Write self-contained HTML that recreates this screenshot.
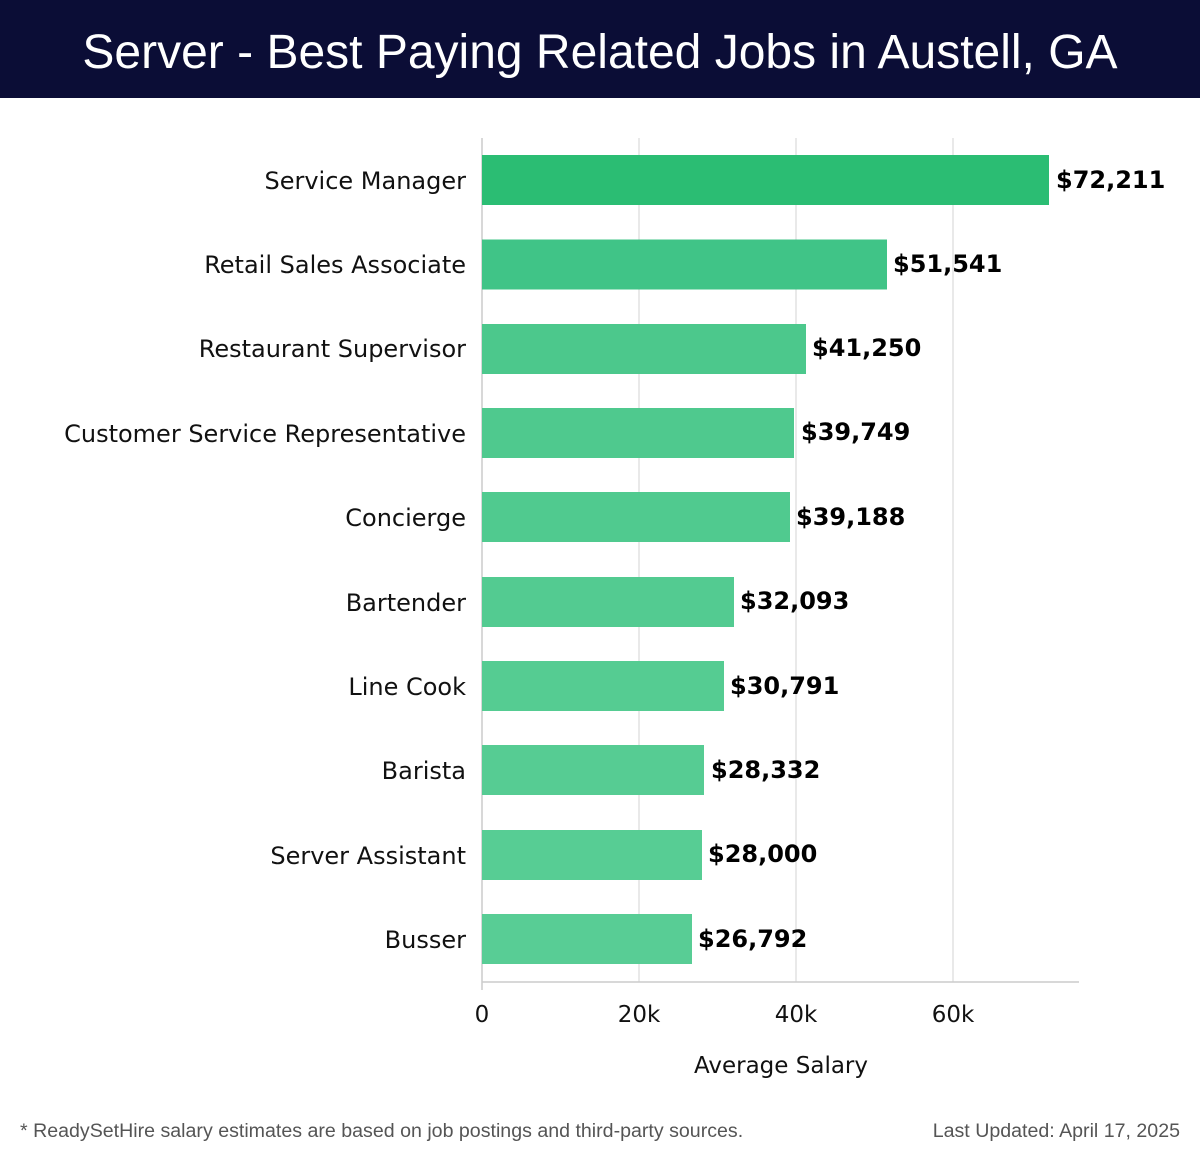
<!DOCTYPE html>
<html><head><style>
body{margin:0;width:1200px;height:1158px;background:#fff;font-family:"Liberation Sans",sans-serif;position:relative;overflow:hidden}
.hdr{position:absolute;left:0;top:0;width:1200px;height:98px;background:#0b0d36;color:#fff;font-size:48px;text-align:center;line-height:106px}
</style></head><body>
<div class="hdr">Server - Best Paying Related Jobs in Austell, GA</div>
<svg width="1200" height="1158" style="position:absolute;left:0;top:0" font-family="DejaVu Sans, sans-serif">
<g stroke="#e2e2e2" stroke-width="1.5">
<line x1="639" y1="138" x2="639" y2="982"/><line x1="796" y1="138" x2="796" y2="982"/><line x1="953" y1="138" x2="953" y2="982"/>
</g>
<line x1="482" y1="138" x2="482" y2="990" stroke="#ccc" stroke-width="1.5"/>
<line x1="482" y1="982" x2="1079" y2="982" stroke="#ccc" stroke-width="1.5"/>
<g>
<rect x="482" y="155" width="567" height="50" fill="#2bbd73"/>
<rect x="482" y="239.5" width="405" height="50" fill="#40c487"/>
<rect x="482" y="324" width="324" height="50" fill="#4cc88c"/>
<rect x="482" y="408" width="312" height="50" fill="#4fc98e"/>
<rect x="482" y="492" width="308" height="50" fill="#50ca8f"/>
<rect x="482" y="577" width="252" height="50" fill="#53cb91"/>
<rect x="482" y="661" width="242" height="50" fill="#55cc92"/>
<rect x="482" y="745" width="222" height="50" fill="#56cc93"/>
<rect x="482" y="830" width="220" height="50" fill="#57cd94"/>
<rect x="482" y="914" width="210" height="50" fill="#58cd95"/>
</g>
<g font-size="24" fill="#111" text-anchor="end">
<text x="466" y="189">Service Manager</text>
<text x="466" y="273">Retail Sales Associate</text>
<text x="466" y="357">Restaurant Supervisor</text>
<text x="466" y="442">Customer Service Representative</text>
<text x="466" y="526">Concierge</text>
<text x="466" y="611">Bartender</text>
<text x="466" y="695">Line Cook</text>
<text x="466" y="779">Barista</text>
<text x="466" y="864">Server Assistant</text>
<text x="466" y="948">Busser</text>
</g>
<g font-size="24" font-weight="bold" fill="#000">
<text x="1056" y="188">$72,211</text>
<text x="893" y="272">$51,541</text>
<text x="812" y="356">$41,250</text>
<text x="801" y="440">$39,749</text>
<text x="796" y="525">$39,188</text>
<text x="740" y="609">$32,093</text>
<text x="730" y="694">$30,791</text>
<text x="711" y="778">$28,332</text>
<text x="708" y="862">$28,000</text>
<text x="698" y="947">$26,792</text>
</g>
<g font-size="23" fill="#111" text-anchor="middle">
<text x="482" y="1022">0</text><text x="639" y="1022">20k</text><text x="796" y="1022">40k</text><text x="953" y="1022">60k</text>
<text x="781" y="1073">Average Salary</text>
</g>
<text x="20" y="1137" font-size="19.6" fill="#555" font-family="Liberation Sans, sans-serif">* ReadySetHire salary estimates are based on job postings and third-party sources.</text>
<text x="1180" y="1137" font-size="19.6" fill="#555" text-anchor="end" font-family="Liberation Sans, sans-serif">Last Updated: April 17, 2025</text>
</svg>
</body></html>
